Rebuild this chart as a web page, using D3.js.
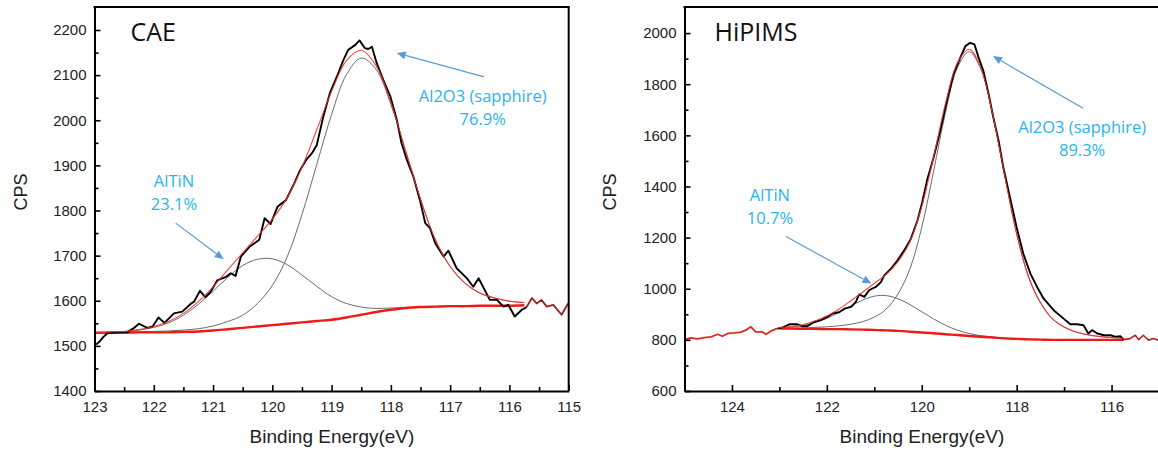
<!DOCTYPE html>
<html>
<head>
<meta charset="utf-8">
<script src="https://cdn.jsdelivr.net/npm/d3@7"></script>
<style>
  body { margin: 0; background: #fff; }
  svg { display: block; }
</style>
</head>
<body>
<svg id="chart" width="1158" height="451"></svg>
<script>
// ---------- Al 2p spectra: CAE coating vs HiPIMS coating ----------

// Shared energy grid of the peak-fit curves (eV)
const fitEnergy = [123.0,122.75,122.5,122.25,122.0,121.75,121.5,121.25,121.0,120.75,120.5,120.25,120.0,119.75,119.5,119.25,119.0,118.75,118.5,118.25,118.0,117.75,117.5,117.25,117.0,116.75,116.5,116.25,116.0,115.75];

// CAE fit curves (CPS)
const caeBackground = [1529,1529,1529,1530,1530,1530,1531,1532,1534,1537,1540,1543,1546,1549,1552,1555,1558,1563,1569,1575,1580,1584,1586,1587,1588,1588,1589,1589,1589,1590];
const caeAlTiN      = [1529,1530,1531,1535,1541,1551,1568,1592,1621,1652,1678,1692,1693,1680,1657,1632,1609,1594,1586,1583,1584,1585,1586,1587,1588,1588,1589,1589,1589,1590];
const caeAl2O3      = [1529,1530,1530,1531,1532,1533,1535,1538,1544,1554,1568,1594,1634,1697,1791,1902,2013,2101,2138,2113,2035,1931,1825,1735,1676,1639,1617,1606,1599,1596];
const caeEnvelope   = [1529,1531,1532,1536,1543,1554,1572,1598,1631,1669,1706,1743,1781,1828,1896,1979,2064,2132,2155,2121,2039,1932,1825,1735,1676,1639,1617,1606,1599,1596];

// CAE measured spectrum inside the fit window
const caeRawEnergy = [122.97,122.92,122.85,122.78,122.6,122.44,122.33,122.25,122.11,122.02,121.92,121.82,121.66,121.52,121.37,121.32,121.22,121.13,121.04,120.93,120.78,120.70,120.62,120.53,120.39,120.22,120.13,120.03,119.91,119.77,119.63,119.53,119.43,119.33,119.25,119.14,119.03,118.91,118.80,118.72,118.60,118.53,118.44,118.38,118.32,118.24,118.13,118.01,117.90,117.82,117.73,117.62,117.51,117.42,117.34,117.25,117.11,117.03,116.89,116.72,116.61,116.52,116.33,116.21,116.10,116.02,115.91,115.79,115.71];
const caeRawCps    = [1503,1509,1520,1528,1530,1531,1540,1549,1540,1543,1563,1551,1572,1576,1594,1598,1622,1608,1620,1645,1653,1661,1655,1698,1719,1735,1783,1770,1809,1823,1860,1890,1912,1927,1945,2008,2060,2097,2134,2156,2167,2177,2160,2158,2163,2127,2090,2053,2001,1949,1912,1875,1823,1772,1761,1727,1698,1711,1672,1650,1631,1650,1602,1602,1587,1591,1565,1580,1586];
// CAE measured spectrum beyond the fit window
const caeEdgeEnergy = [115.71,115.62,115.54,115.46,115.37,115.26,115.12,115.01];
const caeEdgeCps    = [1586,1606,1594,1602,1587,1591,1569,1594];

// HiPIMS fit curves (CPS)
const hipimsBackground = [844,844,843,843,842,842,841,840,839,837,835,832,829,826,822,819,815,812,809,806,804,802,801,800,800,800,800,800,800,800];
const hipimsAlTiN      = [847,850,856,868,884,907,932,955,971,973,961,938,910,882,857,838,825,816,811,807,804,802,801,800,800,800,800,800,800,800];
const hipimsAl2O3      = [845,846,846,849,851,855,861,871,889,920,980,1077,1240,1460,1689,1864,1927,1857,1676,1440,1215,1047,946,883,850,831,820,813,809,806];
const hipimsEnvelope   = [848,852,859,874,893,920,952,986,1021,1056,1106,1183,1321,1516,1724,1883,1937,1861,1678,1441,1215,1047,946,883,850,831,820,813,809,806];

// HiPIMS measured spectrum inside the fit window
const hipimsRawEnergy = [123.04,122.90,122.79,122.62,122.51,122.41,122.27,122.13,121.99,121.88,121.74,121.63,121.49,121.39,121.32,121.21,121.11,120.97,120.86,120.79,120.65,120.51,120.37,120.23,120.09,119.99,119.89,119.75,119.61,119.47,119.33,119.19,119.08,118.98,118.89,118.80,118.70,118.59,118.49,118.38,118.28,118.14,118.00,117.86,117.71,117.57,117.43,117.22,117.01,116.87,116.73,116.59,116.49,116.41,116.30,116.16,116.02,115.91,115.81,115.75];
const hipimsRawCps    = [844,851,861,861,853,853,870,877,890,903,908,922,929,948,978,968,994,1007,1026,1052,1078,1111,1150,1195,1267,1338,1423,1513,1618,1735,1839,1903,1949,1962,1956,1903,1851,1761,1669,1579,1474,1357,1240,1137,1059,1007,961,916,883,861,861,857,825,838,825,818,818,812,814,801];
// HiPIMS measured spectrum outside the fit window
const hipimsLowEdgeEnergy  = [125.0,124.87,124.73,124.58,124.44,124.30,124.20,124.09,123.95,123.81,123.71,123.60,123.50,123.36,123.28,123.18,123.07,123.04];
const hipimsLowEdgeCps     = [801,808,804,809,812,822,814,825,827,830,838,851,831,831,822,834,843,844];
const hipimsHighEdgeEnergy = [115.75,115.61,115.50,115.43,115.33,115.22,115.12,115.02];
const hipimsHighEdgeCps    = [801,805,818,801,818,799,805,799];

// Axis ticks
const caeXTicks = [123,122,121,120,119,118,117,116,115];
const caeXMinor = [122.5,121.5,120.5,119.5,118.5,117.5,116.5,115.5];
const caeYTicks = [1400,1500,1600,1700,1800,1900,2000,2100,2200];
const caeYMinor = [1450,1550,1650,1750,1850,1950,2050,2150];
const hipimsXTicks = [124,122,120,118,116];
const hipimsXMinor = [123,121,119,117];
const hipimsYTicks = [600,800,1000,1200,1400,1600,1800,2000];
const hipimsYMinor = [700,900,1100,1300,1500,1700,1900];

// Peak labels: text lines, anchor point and arrow (tail -> head) in data units
const caeNotes = [
  { lines: ["AlTiN", "23.1%"], at: [121.66, 1851], from: [121.63, 1772], to: [120.82, 1692] },
  { lines: ["Al2O3 (sapphire)", "76.9%"], at: [116.45, 2041], from: [116.43, 2096], to: [117.90, 2149] }
];
const hipimsNotes = [
  { lines: ["AlTiN", "10.7%"], at: [123.2, 1342], from: [122.86, 1204], to: [121.06, 1020] },
  { lines: ["Al2O3 (sapphire)", "89.3%"], at: [116.62, 1611], from: [116.60, 1706], to: [118.50, 1910] }
];

const zip = (xs, ys) => xs.map((x, i) => [x, ys[i]]);

const panels = [
  {
    id: "cae", title: "CAE",
    left: 94.5, right: 568.7, top: 7, bottom: 391, titleDx: 36,
    eDomain: [123, 115], cDomain: [1400, 2251],
    xTicks: caeXTicks, xMinor: caeXMinor, yTicks: caeYTicks, yMinor: caeYMinor,
    bg: caeBackground, c1: caeAlTiN, c2: caeAl2O3, env: caeEnvelope,
    raw: zip(caeRawEnergy, caeRawCps),
    edges: [{ pts: zip(caeEdgeEnergy, caeEdgeCps), color: "#9c2020", width: 1.8 }],
    notes: caeNotes,
    yLabelX: 21, xLabelX: 332
  },
  {
    id: "hipims", title: "HiPIMS",
    left: 684.5, right: 1159, top: 7, bottom: 391, titleDx: 30,
    eDomain: [125, 115], cDomain: [600, 2102],
    xTicks: hipimsXTicks, xMinor: hipimsXMinor, yTicks: hipimsYTicks, yMinor: hipimsYMinor,
    bg: hipimsBackground, c1: hipimsAlTiN, c2: hipimsAl2O3, env: hipimsEnvelope,
    raw: zip(hipimsRawEnergy, hipimsRawCps),
    edges: [
      { pts: zip(hipimsLowEdgeEnergy, hipimsLowEdgeCps), color: "#e3261f", width: 1.8 },
      { pts: zip(hipimsHighEdgeEnergy, hipimsHighEdgeCps), color: "#b52424", width: 1.6 }
    ],
    notes: hipimsNotes,
    yLabelX: 610, xLabelX: 922
  }
];

const svg = d3.select("#chart");
const tickFont = "'Liberation Sans', Arial, sans-serif";
const noteFont = "'Open Sans', 'Noto Sans', sans-serif";
const noteColor = "#2ab4ee";
const arrowColor = "#5b9bd5";

panels.forEach(p => {
  const x = d3.scaleLinear().domain(p.eDomain).range([p.left, p.right]);
  const y = d3.scaleLinear().domain(p.cDomain).range([p.bottom, p.top]);
  const g = svg.append("g").attr("class", "panel-" + p.id);

  g.append("clipPath").attr("id", "clip-" + p.id)
    .append("rect")
    .attr("x", p.left).attr("y", p.top)
    .attr("width", p.right - p.left).attr("height", p.bottom - p.top);

  const plot = g.append("g").attr("clip-path", `url(#clip-${p.id})`);

  const smooth = d3.line().x(d => x(d[0])).y(d => y(d[1])).curve(d3.curveCatmullRom.alpha(0.5));
  const jagged = d3.line().x(d => x(d[0])).y(d => y(d[1]));

  // peak components
  [p.c1, p.c2].forEach(vals => {
    plot.append("path")
      .attr("d", smooth(zip(fitEnergy, vals)))
      .attr("fill", "none").attr("stroke", "#6b6b6b").attr("stroke-width", 1);
  });

  // background
  plot.append("path")
    .attr("d", smooth(zip(fitEnergy, p.bg)))
    .attr("fill", "none").attr("stroke", "#ee1b14").attr("stroke-width", 2.4);

  // data outside the fit window
  p.edges.forEach(e => {
    plot.append("path")
      .attr("d", jagged(e.pts))
      .attr("fill", "none").attr("stroke", e.color).attr("stroke-width", e.width)
      .attr("stroke-linejoin", "round");
  });

  // measured spectrum
  plot.append("path")
    .attr("d", jagged(p.raw))
    .attr("fill", "none").attr("stroke", "#000").attr("stroke-width", 1.9)
    .attr("stroke-linejoin", "round");

  // fitted envelope
  plot.append("path")
    .attr("d", smooth(zip(fitEnergy, p.env)))
    .attr("fill", "none").attr("stroke", "#f2322c").attr("stroke-width", 1.1)
    .attr("stroke-opacity", 0.9);

  // axes (ticks pointing inward)
  const styleAxis = sel => {
    sel.selectAll(".domain").attr("stroke", "#000").attr("stroke-width", 2);
    sel.selectAll(".tick line").attr("stroke", "#000").attr("stroke-width", 1.6);
    sel.selectAll(".tick text").attr("fill", "#222").attr("font-family", tickFont).attr("font-size", 15);
  };

  const xAxis = g.append("g").attr("transform", `translate(0,${p.bottom})`)
    .call(d3.axisBottom(x).tickValues(p.xTicks).tickFormat(d3.format("d"))
      .tickSizeInner(-6).tickSizeOuter(0).tickPadding(10));
  styleAxis(xAxis);
  const xMinorAxis = g.append("g").attr("transform", `translate(0,${p.bottom})`)
    .call(d3.axisBottom(x).tickValues(p.xMinor).tickFormat("").tickSizeInner(-4).tickSizeOuter(0));
  styleAxis(xMinorAxis);
  xMinorAxis.select(".domain").remove();

  const yAxis = g.append("g").attr("transform", `translate(${p.left},0)`)
    .call(d3.axisLeft(y).tickValues(p.yTicks).tickFormat(d3.format("d"))
      .tickSizeInner(-6).tickSizeOuter(0).tickPadding(8));
  styleAxis(yAxis);
  const yMinorAxis = g.append("g").attr("transform", `translate(${p.left},0)`)
    .call(d3.axisLeft(y).tickValues(p.yMinor).tickFormat("").tickSizeInner(-4).tickSizeOuter(0));
  styleAxis(yMinorAxis);
  yMinorAxis.select(".domain").remove();

  // frame: top and right edges
  g.append("line").attr("x1", p.left - 1).attr("x2", p.right + 1).attr("y1", p.top).attr("y2", p.top)
    .attr("stroke", "#000").attr("stroke-width", 2);
  g.append("line").attr("x1", p.right).attr("x2", p.right).attr("y1", p.top).attr("y2", p.bottom)
    .attr("stroke", "#000").attr("stroke-width", 2);

  // axis titles
  g.append("text")
    .attr("transform", `translate(${p.yLabelX},${(p.top + p.bottom) / 2 - 7}) rotate(-90)`)
    .attr("text-anchor", "middle").attr("dominant-baseline", "central")
    .attr("font-family", tickFont).attr("font-size", 18).attr("fill", "#222")
    .text("CPS");
  g.append("text")
    .attr("x", p.xLabelX).attr("y", 443)
    .attr("text-anchor", "middle")
    .attr("font-family", tickFont).attr("font-size", 19).attr("fill", "#222")
    .text("Binding Energy(eV)");

  // panel title
  g.append("text")
    .attr("x", p.left + p.titleDx).attr("y", 41)
    .attr("font-family", noteFont).attr("font-size", 25).attr("fill", "#111")
    .text(p.title);

  // peak annotations
  p.notes.forEach(n => {
    const t = g.append("text")
      .attr("text-anchor", "middle")
      .attr("font-family", noteFont).attr("font-size", 16.5).attr("fill", noteColor);
    n.lines.forEach((line, i) => {
      t.append("tspan").attr("x", x(n.at[0])).attr("y", y(n.at[1]) + i * 23).text(line);
    });

    const x1 = x(n.from[0]), y1 = y(n.from[1]);
    const x2 = x(n.to[0]), y2 = y(n.to[1]);
    const ang = Math.atan2(y2 - y1, x2 - x1);
    const headLen = 9, headHalf = 4;
    const bx = x2 - headLen * Math.cos(ang), by = y2 - headLen * Math.sin(ang);
    g.append("line")
      .attr("x1", x1).attr("y1", y1).attr("x2", bx).attr("y2", by)
      .attr("stroke", arrowColor).attr("stroke-width", 1.2);
    g.append("path")
      .attr("d", d3.line()([
        [x2, y2],
        [bx + headHalf * Math.sin(ang), by - headHalf * Math.cos(ang)],
        [bx - headHalf * Math.sin(ang), by + headHalf * Math.cos(ang)]
      ]) + "Z")
      .attr("fill", arrowColor);
  });
});
</script>
</body>
</html>
